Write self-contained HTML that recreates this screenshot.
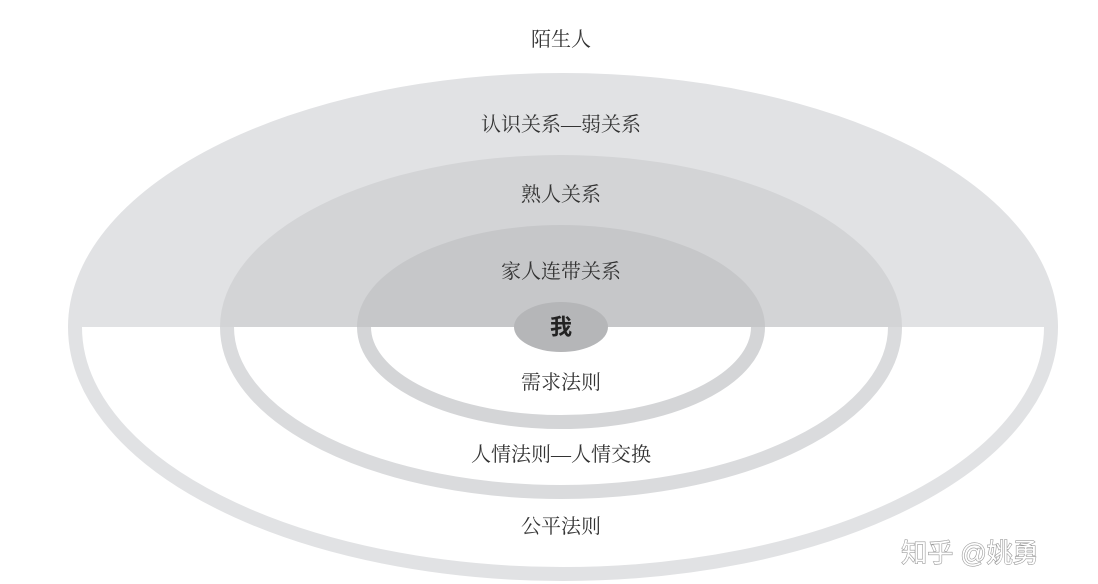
<!DOCTYPE html>
<html><head><meta charset="utf-8"><style>
html,body{margin:0;padding:0;background:#fff;}
svg{display:block;}
text{font-family:"Liberation Serif","Noto Serif CJK SC",serif;fill:#333;font-size:20px;text-anchor:middle;dominant-baseline:central;}
</style></head><body>
<svg width="1098" height="584" viewBox="0 0 1098 584">
<defs>
<clipPath id="top"><rect x="0" y="0" width="1098" height="327"/></clipPath>
<clipPath id="bot"><rect x="0" y="327" width="1098" height="300"/></clipPath>
</defs>
<ellipse cx="563" cy="327" rx="495" ry="254" fill="#e1e2e4" clip-path="url(#top)"/>
<ellipse cx="563" cy="327" rx="488" ry="247" fill="none" stroke="#e1e2e4" stroke-width="14" clip-path="url(#bot)"/>
<ellipse cx="561" cy="327" rx="341" ry="172" fill="#d3d4d6" clip-path="url(#top)"/>
<ellipse cx="561" cy="327" rx="334" ry="165" fill="none" stroke="#dadbdd" stroke-width="14" clip-path="url(#bot)"/>
<ellipse cx="561" cy="327" rx="204" ry="102" fill="#c6c7c9" clip-path="url(#top)"/>
<ellipse cx="561" cy="327" rx="197" ry="95" fill="none" stroke="#d4d5d7" stroke-width="14" clip-path="url(#bot)"/>
<ellipse cx="561" cy="327" rx="47" ry="25" fill="#b5b6b8"/>
<text x="561" y="40">陌生人</text>
<text x="561" y="125">认识关系—弱关系</text>
<text x="561" y="195">熟人关系</text>
<text x="561" y="272">家人连带关系</text>
<text x="561" y="327" style="font-family:'Liberation Sans','Noto Sans CJK SC',sans-serif;font-weight:bold;font-size:22px;fill:#222">我</text>
<text x="561" y="383">需求法则</text>
<text x="561" y="455">人情法则—人情交换</text>
<text x="561" y="527">公平法则</text>
<text x="970" y="553" style="font-family:'Liberation Sans','Noto Sans CJK SC',sans-serif;font-size:26px;fill:#fff;stroke:#999;stroke-width:1.2;paint-order:stroke">知乎 @姚勇</text>
</svg>
</body></html>
